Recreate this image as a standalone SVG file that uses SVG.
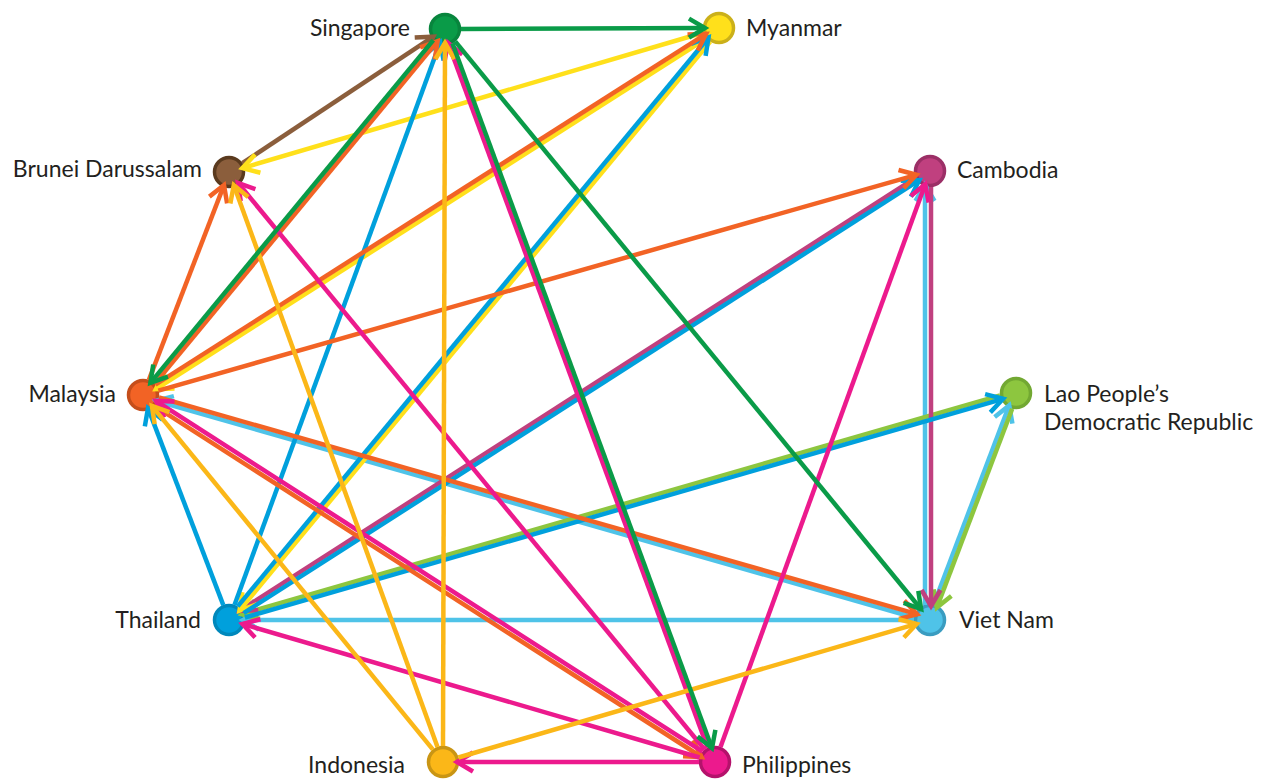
<svg xmlns="http://www.w3.org/2000/svg" width="1266" height="779" viewBox="0 0 1266 779">
<style>
.lbl{font-family:Lato,"Open Sans","Liberation Sans",sans-serif;font-size:23px;fill:#231f20}
.e{fill:none;stroke-width:4.5}
.gr{stroke:#0a9b48}.ye{stroke:#ffe01b}.br{stroke:#8b5e3c}.or{stroke:#f26325}.pu{stroke:#c0407f}
.lg{stroke:#8dc63f}.bl{stroke:#00a0dc}.lb{stroke:#4fc3e8}.go{stroke:#fbb718}.pk{stroke:#ec1a8d}
</style>
<defs>
<marker id="m-gr" markerUnits="userSpaceOnUse" orient="auto" markerWidth="40" markerHeight="40" refX="0" refY="0" overflow="visible"><path d="M-16,-9.5 L0,0 L-16,9.5" fill="none" stroke="#0a9b48" stroke-width="4.5"/></marker>
<marker id="m-ye" markerUnits="userSpaceOnUse" orient="auto" markerWidth="40" markerHeight="40" refX="0" refY="0" overflow="visible"><path d="M-16,-9.5 L0,0 L-16,9.5" fill="none" stroke="#ffe01b" stroke-width="4.5"/></marker>
<marker id="m-br" markerUnits="userSpaceOnUse" orient="auto" markerWidth="40" markerHeight="40" refX="0" refY="0" overflow="visible"><path d="M-16,-9.5 L0,0 L-16,9.5" fill="none" stroke="#8b5e3c" stroke-width="4.5"/></marker>
<marker id="m-or" markerUnits="userSpaceOnUse" orient="auto" markerWidth="40" markerHeight="40" refX="0" refY="0" overflow="visible"><path d="M-16,-9.5 L0,0 L-16,9.5" fill="none" stroke="#f26325" stroke-width="4.5"/></marker>
<marker id="m-pu" markerUnits="userSpaceOnUse" orient="auto" markerWidth="40" markerHeight="40" refX="0" refY="0" overflow="visible"><path d="M-16,-9.5 L0,0 L-16,9.5" fill="none" stroke="#c0407f" stroke-width="4.5"/></marker>
<marker id="m-lg" markerUnits="userSpaceOnUse" orient="auto" markerWidth="40" markerHeight="40" refX="0" refY="0" overflow="visible"><path d="M-16,-9.5 L0,0 L-16,9.5" fill="none" stroke="#8dc63f" stroke-width="4.5"/></marker>
<marker id="m-bl" markerUnits="userSpaceOnUse" orient="auto" markerWidth="40" markerHeight="40" refX="0" refY="0" overflow="visible"><path d="M-16,-9.5 L0,0 L-16,9.5" fill="none" stroke="#00a0dc" stroke-width="4.5"/></marker>
<marker id="m-lb" markerUnits="userSpaceOnUse" orient="auto" markerWidth="40" markerHeight="40" refX="0" refY="0" overflow="visible"><path d="M-16,-9.5 L0,0 L-16,9.5" fill="none" stroke="#4fc3e8" stroke-width="4.5"/></marker>
<marker id="m-go" markerUnits="userSpaceOnUse" orient="auto" markerWidth="40" markerHeight="40" refX="0" refY="0" overflow="visible"><path d="M-16,-9.5 L0,0 L-16,9.5" fill="none" stroke="#fbb718" stroke-width="4.5"/></marker>
<marker id="m-pk" markerUnits="userSpaceOnUse" orient="auto" markerWidth="40" markerHeight="40" refX="0" refY="0" overflow="visible"><path d="M-16,-9.5 L0,0 L-16,9.5" fill="none" stroke="#ec1a8d" stroke-width="4.5"/></marker>
</defs>
<rect width="1266" height="779" fill="#ffffff"/>
<g id="nodes-circles">
<g id="singapore"><circle cx="445" cy="29" r="14.5" fill="#0a9b48" stroke="#08853d" stroke-width="3.5"/><text class="lbl" x="410" y="36" text-anchor="end">Singapore</text></g>
<g id="myanmar"><circle cx="719" cy="28" r="14.5" fill="#ffe01b" stroke="#cbb01a" stroke-width="3.5"/><text class="lbl" x="746" y="36">Myanmar</text></g>
<g id="brunei"><circle cx="229" cy="172" r="14.5" fill="#8b5e3c" stroke="#5a3a1e" stroke-width="3.5"/><text class="lbl" x="202" y="177" text-anchor="end">Brunei Darussalam</text></g>
<g id="cambodia"><circle cx="930" cy="171" r="14.5" fill="#c0407f" stroke="#9b2f66" stroke-width="3.5"/><text class="lbl" x="957" y="178">Cambodia</text></g>
<g id="malaysia"><circle cx="143" cy="395" r="14.5" fill="#f26325" stroke="#c54e1b" stroke-width="3.5"/><text class="lbl" x="116" y="402" text-anchor="end">Malaysia</text></g>
<g id="lao"><circle cx="1016" cy="393" r="14.5" fill="#8dc63f" stroke="#72a832" stroke-width="3.5"/><text class="lbl" x="1044" y="402">Lao People’s</text><text class="lbl" x="1044" y="430">Democratic Republic</text></g>
<g id="thailand"><circle cx="229" cy="620" r="14.5" fill="#00a0dc" stroke="#0088bb" stroke-width="3.5"/><text class="lbl" x="201" y="628" text-anchor="end">Thailand</text></g>
<g id="vietnam"><circle cx="930" cy="620" r="14.5" fill="#4fc3e8" stroke="#3a9cc0" stroke-width="3.5"/><text class="lbl" x="959" y="628">Viet Nam</text></g>
<g id="indonesia"><circle cx="443" cy="762" r="14.5" fill="#fbb718" stroke="#c99514" stroke-width="3.5"/><text class="lbl" x="405" y="773" text-anchor="end">Indonesia</text></g>
<g id="philippines"><circle cx="715" cy="762" r="14.5" fill="#ec1a8d" stroke="#b4126b" stroke-width="3.5"/><text class="lbl" x="742" y="773">Philippines</text></g>
</g>
<g id="connectors">
<line class="e lb" x1="914.1" y1="617.5" x2="155.9" y2="400.8" marker-end="url(#m-lb)"/>
<line class="e lb" x1="914" y1="620" x2="243" y2="620" marker-end="url(#m-lb)"/>
<line class="e lb" x1="925" y1="605" x2="925" y2="185" marker-end="url(#m-lb)"/>
<line class="e lb" x1="933.8" y1="604.3" x2="1009.2" y2="405.4" marker-end="url(#m-lb)"/>
<line class="e lg" x1="1000.1" y1="395.5" x2="241.9" y2="614.2" marker-end="url(#m-lg)"/>
<line class="e lg" x1="1012.2" y1="408.7" x2="936.8" y2="607.6" marker-end="url(#m-lg)"/>
<line class="e pu" x1="915.5" y1="178" x2="239.7" y2="610.8" marker-end="url(#m-pu)"/>
<line class="e pu" x1="931" y1="187" x2="931" y2="606" marker-end="url(#m-pu)"/>
<line class="e br" x1="242.3" y1="163.2" x2="433.3" y2="36.7" marker-end="url(#m-br)"/>
<line class="e ye" x1="703.7" y1="32.5" x2="242.4" y2="168.1" marker-end="url(#m-ye)"/>
<line class="e ye" x1="706.6" y1="38.3" x2="155.9" y2="389.2" marker-end="url(#m-ye)"/>
<line class="e ye" x1="710.3" y1="41.6" x2="239.5" y2="610.5" marker-end="url(#m-ye)"/>
<line class="e bl" x1="234.5" y1="605" x2="440.2" y2="42.2" marker-end="url(#m-bl)"/>
<line class="e bl" x1="237.7" y1="606.4" x2="708.5" y2="37.5" marker-end="url(#m-bl)"/>
<line class="e bl" x1="223.3" y1="605.1" x2="148" y2="408.1" marker-end="url(#m-bl)"/>
<line class="e bl" x1="243.6" y1="613.1" x2="919.3" y2="180.2" marker-end="url(#m-bl)"/>
<line class="e bl" x1="244.9" y1="617.5" x2="1003.1" y2="398.8" marker-end="url(#m-bl)"/>
<line class="e or" x1="154.7" y1="383.9" x2="437.6" y2="41.1" marker-end="url(#m-or)"/>
<line class="e or" x1="155.4" y1="384.7" x2="706.1" y2="33.8" marker-end="url(#m-or)"/>
<line class="e or" x1="148.8" y1="380.1" x2="224" y2="185.1" marker-end="url(#m-or)"/>
<line class="e or" x1="158.4" y1="390.6" x2="916.5" y2="174.8" marker-end="url(#m-or)"/>
<line class="e or" x1="158.9" y1="397.5" x2="917.1" y2="614.2" marker-end="url(#m-or)"/>
<line class="e or" x1="154.9" y1="406.2" x2="701.6" y2="757" marker-end="url(#m-or)"/>
<line class="e pk" x1="707.6" y1="747.7" x2="448" y2="42.8" marker-end="url(#m-pk)"/>
<line class="e pk" x1="704.8" y1="749.7" x2="237.9" y2="182.8" marker-end="url(#m-pk)"/>
<line class="e pk" x1="702.6" y1="751.7" x2="155.9" y2="400.9" marker-end="url(#m-pk)"/>
<line class="e pk" x1="720.5" y1="747" x2="925.2" y2="184.2" marker-end="url(#m-pk)"/>
<line class="e pk" x1="699.6" y1="757.5" x2="242.4" y2="623.9" marker-end="url(#m-pk)"/>
<line class="e pk" x1="699" y1="762" x2="457" y2="762" marker-end="url(#m-pk)"/>
<line class="e go" x1="443" y1="746" x2="445" y2="43" marker-end="url(#m-go)"/>
<line class="e go" x1="437.5" y1="747" x2="233.8" y2="185.2" marker-end="url(#m-go)"/>
<line class="e go" x1="432.9" y1="749.6" x2="151.9" y2="405.8" marker-end="url(#m-go)"/>
<line class="e go" x1="458.4" y1="757.5" x2="916.6" y2="623.9" marker-end="url(#m-go)"/>
<line class="e gr" x1="461" y1="29" x2="705" y2="28" marker-end="url(#m-gr)"/>
<line class="e gr" x1="433.3" y1="40.1" x2="150.4" y2="382.9" marker-end="url(#m-gr)"/>
<line class="e gr" x1="455.2" y1="41.4" x2="921.1" y2="609.2" marker-end="url(#m-gr)"/>
<line class="e gr" x1="452.4" y1="43.3" x2="712" y2="748.2" marker-end="url(#m-gr)"/>
</g>
</svg>
